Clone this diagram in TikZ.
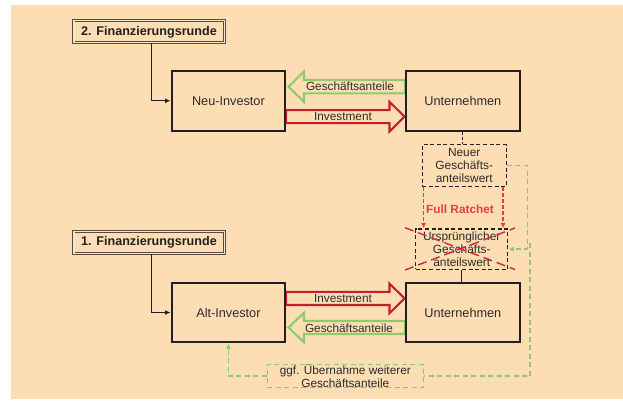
\documentclass[tikz,border=0pt]{standalone}
\usepackage{fontspec}
\setmainfont{Liberation Sans}
\usepackage{tikz}
\usetikzlibrary{calc, arrows.meta}

\definecolor{peach}{RGB}{253,222,180}
\definecolor{cream}{RGB}{246,232,208}
\definecolor{boxline}{RGB}{35,31,32}
\definecolor{dbrown}{RGB}{88,74,60}
\definecolor{txt}{RGB}{45,43,41}
\definecolor{grn}{RGB}{143,202,108}
\definecolor{redarrow}{RGB}{198,30,45}
\definecolor{ratred}{RGB}{232,62,52}
\definecolor{rdash}{RGB}{228,62,50}
\definecolor{xred}{RGB}{212,38,58}

\tikzset{
  box/.style={draw=boxline, line width=2.1pt, fill=peach, minimum width=113.6pt,
    minimum height=59.6pt, inner sep=0pt, text=txt, font=\fontsize{12.7}{15}\selectfont},
  rundebox/.style={draw=dbrown, double=cream, double distance=1.4pt, line width=0.9pt,
    fill=peach, minimum width=150.4pt, minimum height=22pt, inner sep=0pt,
    text=boxline, font=\bfseries\fontsize{12.6}{15}\selectfont},
  wertbox/.style={draw=boxline, line width=1.3pt, dash pattern=on 4pt off 2.6pt,
    fill=peach, inner sep=0pt, align=center, text=txt,
    font=\fontsize{11.9}{13.3}\selectfont},
  pfeiltext/.style={text=txt, inner sep=0pt, font=\fontsize{11.8}{13}\selectfont},
  gruen/.style={draw=grn, line width=2.1pt, fill=peach},
  rot/.style={draw=redarrow, line width=2.1pt, fill=peach},
  gruendash/.style={draw=grn, line width=1.5pt, dash pattern=on 5pt off 3.5pt},
  rotdash/.style={draw=rdash, line width=1.3pt, dash pattern=on 4pt off 2pt},
  kreuz/.style={draw=xred, line width=1.4pt, dash pattern=on 9pt off 5pt},
  linie/.style={draw=boxline, line width=1.3pt}
}

\begin{document}
\begin{tikzpicture}[>={Latex[length=5.5pt,width=5pt]}, x=1pt, y=-1pt]
  \useasboundingbox (0,0) rectangle (623,403);
  \fill [peach] (11,5) rectangle (623,399);

  \draw [gruen] (405,80) -- (304,80) -- (304,71.5) -- (288.5,86.7) -- (304,101.9)
    -- (304,93.4) -- (405,93.4) -- cycle;
  \draw [rot] (286,110.2) -- (389.5,110.2) -- (389.5,101.8) -- (404.5,116.7)
    -- (389.5,131.6) -- (389.5,123.2) -- (286,123.2) -- cycle;
  \draw [rot] (286,291.8) -- (389.5,291.8) -- (389.5,283.6) -- (404.5,298.4)
    -- (389.5,313.2) -- (389.5,305) -- (286,305) -- cycle;
  \draw [gruen] (405,321) -- (304,321) -- (304,312.7) -- (288.5,327.5) -- (304,342.3)
    -- (304,334) -- (405,334) -- cycle;

  \node (gtop) at (350,86) [pfeiltext] {Geschäftsanteile};
  \node (itop) at (343,117) [pfeiltext] {Investment};
  \node (ibot) at (343,298.5) [pfeiltext] {Investment};
  \node (gbot) at (349,328) [pfeiltext] {Geschäftsanteile};

  \node (runde2) at (149,31.8) [rundebox] {2. Finanzierungsrunde};
  \node (runde1) at (149,242.5) [rundebox] {1. Finanzierungsrunde};
  \node (neu) at (228.4,100.8) [box] {Neu-Investor};
  \node (untop) at (462.8,100.8) [box] {Unternehmen};
  \node (alt) at (228.4,312.5) [box] {Alt-Investor};
  \node (unbot) at (462.8,312.5) [box] {Unternehmen};

  \node (neuwert) at (464.2,165.6) [wertbox, minimum width=84pt, minimum height=42pt]
    {Neuer\\Geschäfts-\\anteilswert};
  \node (altwert) at (461.7,249.2) [wertbox, minimum width=92pt, minimum height=40.5pt]
    {Ursprünglicher\\Geschäfts-\\anteilswert};
  \node (uebern) at (345.3,376.2) [wertbox, draw=grn, line width=1.5pt,
    dash pattern=on 5pt off 3.5pt, minimum width=156pt, minimum height=23pt,
    font=\fontsize{11.8}{12.6}\selectfont]
    {ggf. Übernahme weiterer\\Geschäftsanteile};
  \node (ratchet) at (460,209.3) [text=ratred, inner sep=0pt,
    font=\bfseries\fontsize{11.8}{13}\selectfont] {Full Ratchet};

  \draw [linie, ->] ([xshift=2.7pt]runde2.south) |- (neu.west);
  \draw [linie, ->] ([xshift=2.7pt]runde1.south) |- (alt.west);

  \draw [draw=boxline, line width=0.9pt, dash pattern=on 3pt off 2pt]
    (untop.south) -- (untop.south |- neuwert.north);
  \draw [draw=boxline, line width=0.9pt] (altwert.south) -- (altwert.south |- unbot.north);

  \draw [rotdash, ->] ([xshift=2pt]neuwert.south west)
    -- ([xshift=2pt]neuwert.south west |- altwert.north);
  \draw [rotdash, ->] ([xshift=-3.8pt]neuwert.south east)
    -- ([xshift=-3.8pt]neuwert.south east |- altwert.north);

  \draw [kreuz] (405,227.7) -- (515,269.5);
  \draw [kreuz] (405,270) -- (515,228);

  \coordinate (gknick) at (530,243);
  \draw [gruendash, ->] (neuwert.east) -- ++(20.5,0) |- (altwert.east);
  \draw [gruendash] (gknick) |- (uebern.east);
  \draw [gruendash, ->] (uebern.west) -| (alt.south);
\end{tikzpicture}
\end{document}
